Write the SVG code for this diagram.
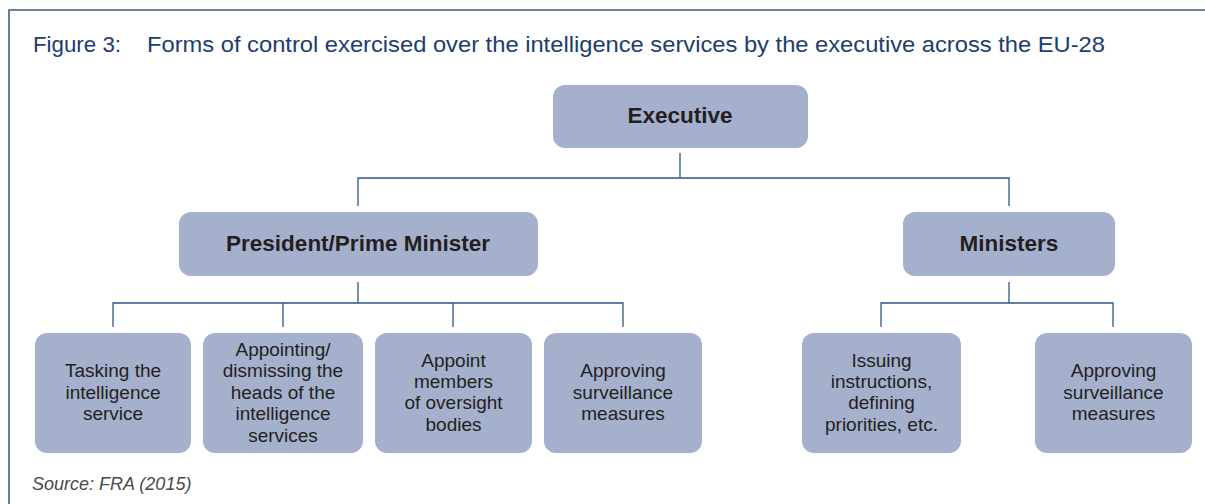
<svg xmlns="http://www.w3.org/2000/svg" width="1205" height="504" viewBox="0 0 1205 504">
<style>
.frame{fill:none;stroke:#3f5e8c;stroke-width:1.6}
.title{font-family:"Liberation Sans",Arial,sans-serif;font-size:22px;fill:#1c3d6e}
.box{fill:#a5b0cc}
.head{font-family:"Liberation Sans",Arial,sans-serif;font-size:22.5px;font-weight:bold;fill:#231f20;text-anchor:middle}
.lbl{font-family:"Liberation Sans",Arial,sans-serif;font-size:19px;fill:#231f20;text-anchor:middle}
.src{font-family:"Liberation Sans",Arial,sans-serif;font-size:18px;font-style:italic;fill:#4a4a4a}
.conn{fill:none;stroke:#2f5688;stroke-width:1.3}
</style>
<rect width="1205" height="504" fill="#ffffff"/>
<path class="frame" d="M9,504 V10 H1205"/>
<text class="title" x="33" y="52" textLength="88" lengthAdjust="spacingAndGlyphs">Figure 3:</text>
<text class="title" x="147" y="52" textLength="958" lengthAdjust="spacingAndGlyphs">Forms of control exercised over the intelligence services by the executive across the EU-28</text>

<g id="connectors">
<path class="conn" d="M680,153 V178 M358,206 V178 H1009 V206"/>
<path class="conn" d="M358,282 V303 M113,327 V303 H623 V327 M283,303 V327 M453,303 V327"/>
<path class="conn" d="M1009,282 V303 M881,327 V303 H1113 V327"/>
</g>

<g id="executive">
<rect class="box" x="553" y="85" width="255" height="63" rx="12"/>
<text class="head" x="680" y="123">Executive</text>
</g>
<g id="president">
<rect class="box" x="179" y="212" width="359" height="64" rx="12"/>
<text class="head" x="358" y="251">President/Prime Minister</text>
</g>
<g id="ministers">
<rect class="box" x="903" y="212" width="212" height="64" rx="12"/>
<text class="head" x="1009" y="251">Ministers</text>
</g>

<g id="tasking">
<rect class="box" x="35" y="333" width="156" height="120" rx="12"/>
<text class="lbl" x="113" y="377">Tasking the</text>
<text class="lbl" x="113" y="398.5">intelligence</text>
<text class="lbl" x="113" y="420">service</text>
</g>
<g id="appointing">
<rect class="box" x="203" y="333" width="160" height="120" rx="12"/>
<text class="lbl" x="283" y="355.5">Appointing/</text>
<text class="lbl" x="283" y="377">dismissing the</text>
<text class="lbl" x="283" y="398.5">heads of the</text>
<text class="lbl" x="283" y="420">intelligence</text>
<text class="lbl" x="283" y="441.5">services</text>
</g>
<g id="appoint-members">
<rect class="box" x="375" y="333" width="157" height="120" rx="12"/>
<text class="lbl" x="453.5" y="366.5">Appoint</text>
<text class="lbl" x="453.5" y="388">members</text>
<text class="lbl" x="453.5" y="409">of oversight</text>
<text class="lbl" x="453.5" y="430.5">bodies</text>
</g>
<g id="approving-1">
<rect class="box" x="544" y="333" width="158" height="120" rx="12"/>
<text class="lbl" x="623" y="377">Approving</text>
<text class="lbl" x="623" y="398.5">surveillance</text>
<text class="lbl" x="623" y="420">measures</text>
</g>
<g id="issuing">
<rect class="box" x="802" y="333" width="159" height="120" rx="12"/>
<text class="lbl" x="881.5" y="366.5">Issuing</text>
<text class="lbl" x="881.5" y="388">instructions,</text>
<text class="lbl" x="881.5" y="409">defining</text>
<text class="lbl" x="881.5" y="430.5">priorities, etc.</text>
</g>
<g id="approving-2">
<rect class="box" x="1035" y="333" width="157" height="120" rx="12"/>
<text class="lbl" x="1113.5" y="377">Approving</text>
<text class="lbl" x="1113.5" y="398.5">surveillance</text>
<text class="lbl" x="1113.5" y="420">measures</text>
</g>

<text class="src" x="32" y="490">Source: FRA (2015)</text>
</svg>
